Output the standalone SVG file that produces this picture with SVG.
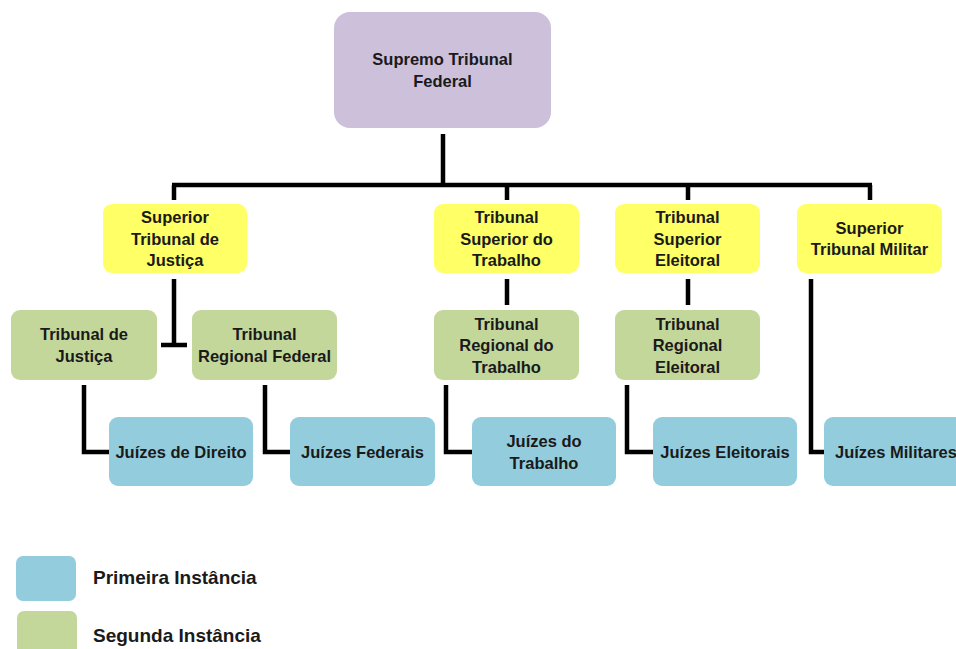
<svg xmlns="http://www.w3.org/2000/svg" width="956" height="649" viewBox="0 0 956 649">
<style>
.t{font-family:"Liberation Sans",Arial,sans-serif;font-weight:bold;font-size:16.5px;fill:#1a1a1a;text-anchor:middle}
.lg{font-family:"Liberation Sans",Arial,sans-serif;font-weight:bold;font-size:19px;fill:#1a1a1a}
.p{fill:#CCC0DA}
.y{fill:#FFFF66}
.g{fill:#C4D79B}
.b{fill:#93CDDD}
.c{fill:none;stroke:#000;stroke-width:4.5;stroke-linecap:butt;stroke-linejoin:miter}
</style>
<rect width="956" height="649" fill="#fff"/>
<g id="connectors">
<path class="c" d="M443 134V185M172 185H872M174 185V200M507 185V200M688 185V200M870 185V200"/>
<path class="c" d="M174 279V345M161 345H187"/>
<path class="c" d="M507 279V305M688 279V305"/>
<path class="c" d="M811 279V452H824"/>
<path class="c" d="M84 385V452H109M265 385V452H290M446 385V452H472M627 385V452H653"/>
</g>
<g id="stf"><rect class="p" x="334" y="12" width="217" height="116" rx="16"/><text class="t" x="442.5" y="65">Supremo Tribunal</text><text class="t" x="442.5" y="86.5">Federal</text></g>
<g id="stj"><rect class="y" x="103" y="204" width="144" height="69" rx="9"/><text class="t" x="175" y="223">Superior</text><text class="t" x="175" y="244.5">Tribunal de</text><text class="t" x="175" y="266">Justiça</text></g>
<g id="tst"><rect class="y" x="434" y="204" width="145" height="69" rx="9"/><text class="t" x="506.5" y="223">Tribunal</text><text class="t" x="506.5" y="244.5">Superior do</text><text class="t" x="506.5" y="266">Trabalho</text></g>
<g id="tse"><rect class="y" x="615" y="204" width="145" height="69" rx="9"/><text class="t" x="687.5" y="223">Tribunal</text><text class="t" x="687.5" y="244.5">Superior</text><text class="t" x="687.5" y="266">Eleitoral</text></g>
<g id="stm"><rect class="y" x="797" y="204" width="145" height="69" rx="9"/><text class="t" x="869.5" y="233.5">Superior</text><text class="t" x="869.5" y="255">Tribunal Militar</text></g>
<g id="tj"><rect class="g" x="11" y="310" width="146" height="70" rx="9"/><text class="t" x="84" y="340">Tribunal de</text><text class="t" x="84" y="361.5">Justiça</text></g>
<g id="trf"><rect class="g" x="192" y="310" width="145" height="70" rx="9"/><text class="t" x="264.5" y="340">Tribunal</text><text class="t" x="264.5" y="361.5">Regional Federal</text></g>
<g id="trt"><rect class="g" x="434" y="310" width="145" height="70" rx="9"/><text class="t" x="506.5" y="329.5">Tribunal</text><text class="t" x="506.5" y="351">Regional do</text><text class="t" x="506.5" y="372.5">Trabalho</text></g>
<g id="tre"><rect class="g" x="615" y="310" width="145" height="70" rx="9"/><text class="t" x="687.5" y="329.5">Tribunal</text><text class="t" x="687.5" y="351">Regional</text><text class="t" x="687.5" y="372.5">Eleitoral</text></g>
<g id="jd"><rect class="b" x="109" y="417" width="144" height="69" rx="9"/><text class="t" x="181" y="457.5">Juízes de Direito</text></g>
<g id="jf"><rect class="b" x="290" y="417" width="145" height="69" rx="9"/><text class="t" x="362.5" y="457.5">Juízes Federais</text></g>
<g id="jt"><rect class="b" x="472" y="417" width="144" height="69" rx="9"/><text class="t" x="544" y="447">Juízes do</text><text class="t" x="544" y="468.5">Trabalho</text></g>
<g id="je"><rect class="b" x="653" y="417" width="144" height="69" rx="9"/><text class="t" x="725" y="457.5">Juízes Eleitorais</text></g>
<g id="jm"><rect class="b" x="824" y="417" width="145" height="69" rx="9"/><text class="t" x="896" y="457.5">Juízes Militares</text></g>
<g id="legend">
<rect class="b" x="16" y="556" width="60" height="45" rx="7"/>
<text class="lg" x="93" y="584">Primeira Instância</text>
<rect class="g" x="17" y="611" width="60" height="50" rx="7"/>
<text class="lg" x="93" y="642">Segunda Instância</text>
</g>
</svg>
